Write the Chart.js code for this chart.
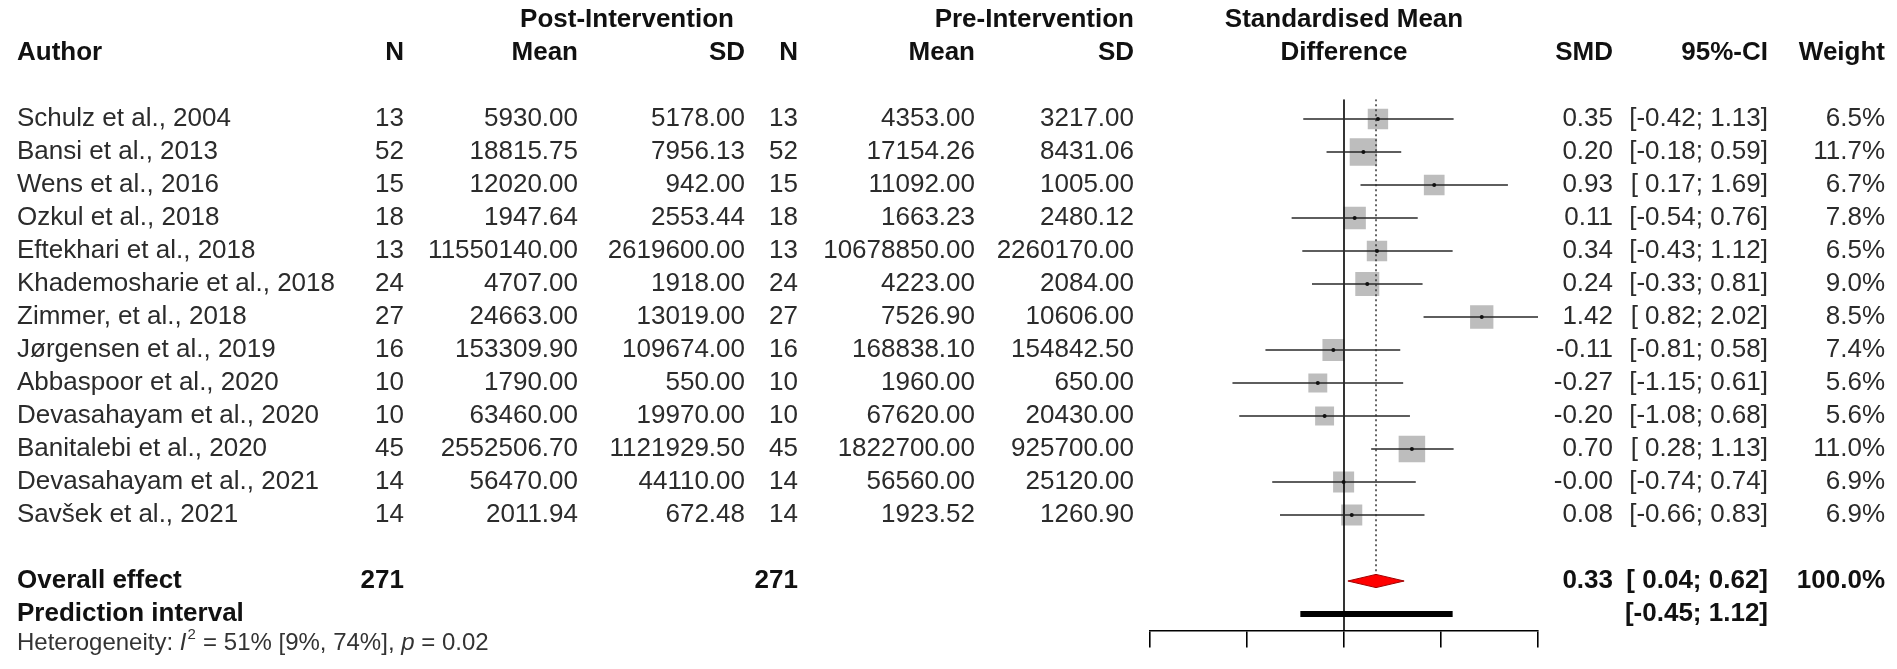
<!DOCTYPE html>
<html>
<head>
<meta charset="utf-8">
<script src="https://cdn.jsdelivr.net/npm/chart.js@4.4.1/dist/chart.umd.min.js"></script>
<style>
html,body{margin:0;padding:0;background:#ffffff;}
#wrap{position:relative;width:1897px;height:669px;overflow:hidden;}
</style>
</head>
<body>
<div id="wrap"><canvas id="c" width="1897" height="669"></canvas></div>
<script>
// ---------------- data ----------------
const authors = ["Schulz et al., 2004","Bansi et al., 2013","Wens et al., 2016","Ozkul et al., 2018","Eftekhari et al., 2018","Khademosharie et al., 2018","Zimmer, et al., 2018","Jørgensen et al., 2019","Abbaspoor et al., 2020","Devasahayam et al., 2020","Banitalebi et al., 2020","Devasahayam et al., 2021","Savšek et al., 2021"];
const nPost    = [13,52,15,18,13,24,27,16,10,10,45,14,14];
const meanPost = [5930.00,18815.75,12020.00,1947.64,11550140.00,4707.00,24663.00,153309.90,1790.00,63460.00,2552506.70,56470.00,2011.94];
const sdPost   = [5178.00,7956.13,942.00,2553.44,2619600.00,1918.00,13019.00,109674.00,550.00,19970.00,1121929.50,44110.00,672.48];
const nPre     = [13,52,15,18,13,24,27,16,10,10,45,14,14];
const meanPre  = [4353.00,17154.26,11092.00,1663.23,10678850.00,4223.00,7526.90,168838.10,1960.00,67620.00,1822700.00,56560.00,1923.52];
const sdPre    = [3217.00,8431.06,1005.00,2480.12,2260170.00,2084.00,10606.00,154842.50,650.00,20430.00,925700.00,25120.00,1260.90];
const smd      = [0.35,0.20,0.93,0.11,0.34,0.24,1.42,-0.11,-0.27,-0.20,0.70,-0.004,0.08];
const ciLow    = [-0.42,-0.18,0.17,-0.54,-0.43,-0.33,0.82,-0.81,-1.15,-1.08,0.28,-0.74,-0.66];
const ciHigh   = [1.13,0.59,1.69,0.76,1.12,0.81,2.02,0.58,0.61,0.68,1.13,0.74,0.83];
const weights  = [6.5,11.7,6.7,7.8,6.5,9.0,8.5,7.4,5.6,5.6,11.0,6.9,6.9];
const totalN   = [271, 271];
const overall  = [0.33, 0.04, 0.62];      // SMD, lower, upper
const predInt  = [-0.45, 1.12];
const overallWeight = 100.0;
const hetero   = {i2: "51%", i2ci: "[9%, 74%]", p: "0.02"};
const tickValues = [-2, -1, 0, 1, 2];

// ---------------- layout constants ----------------
const ROW_OVERALL = 14, ROW_PRED = 15, ROW_H1 = -3, ROW_H2 = -2, ROW_HET = 15.9;
const FONT = '"Liberation Sans", Arial, Helvetica, sans-serif';
const FS = 26;
const COL = {author: 17, n1: 404, mean1: 578, sd1: 745, n2: 798, mean2: 975, sd2: 1134,
             smd: 1613, ci: 1768, weight: 1885};

const fmtCI = (lo, hi) => '[' + (lo < 0 ? lo.toFixed(2) : ' ' + lo.toFixed(2)) + '; ' + hi.toFixed(2) + ']';

// ---------------- datasets ----------------
const ciData = [];
authors.forEach((a, i) => { ciData.push({x: ciLow[i], y: i}, {x: ciHigh[i], y: i}, {x: null, y: null}); });
const sqData = authors.map((a, i) => ({x: smd[i], y: i}));
const sqRadius = weights.map(w => 8.0 * Math.sqrt(w) / Math.SQRT2);
const dHalf = 0.2;
const diamondData = [
  {x: overall[1], y: ROW_OVERALL}, {x: overall[0], y: ROW_OVERALL - dHalf},
  {x: overall[2], y: ROW_OVERALL}, {x: overall[0], y: ROW_OVERALL + dHalf},
  {x: overall[1], y: ROW_OVERALL}
];

const tablePlugin = {
  id: 'tableText',
  afterDraw(chart) {
    const ctx = chart.ctx, ys = chart.scales.y, xs = chart.scales.x;
    const Y = v => ys.getPixelForValue(v);
    ctx.save();
    ctx.textBaseline = 'middle';
    const put = (t, x, y, align, bold, size, color, italic) => {
      ctx.font = (italic ? 'italic ' : '') + (bold ? 'bold ' : '') + (size || FS) + 'px ' + FONT;
      ctx.fillStyle = color || (bold ? '#111' : '#2b2b2b');
      ctx.textAlign = align;
      ctx.fillText(t, x, y);
      return ctx.measureText(t).width;
    };
    // headers
    const h1 = Y(ROW_H1), h2 = Y(ROW_H2);
    put('Post-Intervention', 627, h1, 'center', true);
    put('Pre-Intervention', COL.sd2, h1, 'right', true);
    put('Standardised Mean', xs.getPixelForValue(0), h1, 'center', true);
    put('Author', COL.author, h2, 'left', true);
    put('N', COL.n1, h2, 'right', true);
    put('Mean', COL.mean1, h2, 'right', true);
    put('SD', COL.sd1, h2, 'right', true);
    put('N', COL.n2, h2, 'right', true);
    put('Mean', COL.mean2, h2, 'right', true);
    put('SD', COL.sd2, h2, 'right', true);
    put('Difference', xs.getPixelForValue(0), h2, 'center', true);
    put('SMD', COL.smd, h2, 'right', true);
    put('95%-CI', COL.ci, h2, 'right', true);
    put('Weight', COL.weight, h2, 'right', true);
    // study rows
    authors.forEach((a, i) => {
      const y = Y(i);
      put(a, COL.author, y, 'left');
      put(String(nPost[i]), COL.n1, y, 'right');
      put(meanPost[i].toFixed(2), COL.mean1, y, 'right');
      put(sdPost[i].toFixed(2), COL.sd1, y, 'right');
      put(String(nPre[i]), COL.n2, y, 'right');
      put(meanPre[i].toFixed(2), COL.mean2, y, 'right');
      put(sdPre[i].toFixed(2), COL.sd2, y, 'right');
      put(smd[i].toFixed(2), COL.smd, y, 'right');
      put(fmtCI(ciLow[i], ciHigh[i]), COL.ci, y, 'right');
      put(weights[i].toFixed(1) + '%', COL.weight, y, 'right');
    });
    // overall
    const yo = Y(ROW_OVERALL), yp = Y(ROW_PRED);
    put('Overall effect', COL.author, yo, 'left', true);
    put(String(totalN[0]), COL.n1, yo, 'right', true);
    put(String(totalN[1]), COL.n2, yo, 'right', true);
    put(overall[0].toFixed(2), COL.smd, yo, 'right', true);
    put(fmtCI(overall[1], overall[2]), COL.ci, yo, 'right', true);
    put(overallWeight.toFixed(1) + '%', COL.weight, yo, 'right', true);
    put('Prediction interval', COL.author, yp, 'left', true);
    put(fmtCI(predInt[0], predInt[1]), COL.ci, yp, 'right', true);
    // heterogeneity
    const yh = Y(ROW_HET), hs = 24, hc = '#333';
    let x = COL.author;
    x += put('Heterogeneity: ', x, yh, 'left', false, hs, hc);
    x += put('I', x, yh, 'left', false, hs, hc, true);
    put('2', x + 1, yh - 9, 'left', false, 15, hc);
    x += 10;
    x += put(' = ' + hetero.i2 + ' ' + hetero.i2ci + ', ', x, yh, 'left', false, hs, hc);
    x += put('p', x, yh, 'left', false, hs, hc, true);
    put(' = ' + hetero.p, x, yh, 'left', false, hs, hc);
    ctx.restore();
  }
};

new Chart(document.getElementById('c'), {
  type: 'scatter',
  data: {
    datasets: [
      { // centre marks
        data: sqData, pointStyle: 'circle', pointRadius: 2, backgroundColor: '#111', borderWidth: 0, order: 0
      },
      { // confidence intervals
        data: ciData, showLine: true, spanGaps: false, borderColor: '#2a2a2a', borderWidth: 1.6,
        pointRadius: 0, order: 1
      },
      { // prediction interval
        data: [{x: predInt[0], y: ROW_PRED}, {x: predInt[1], y: ROW_PRED}], showLine: true,
        borderColor: '#000', borderWidth: 6, borderCapStyle: 'butt', pointRadius: 0, order: 2
      },
      { // overall diamond
        data: diamondData, showLine: true, fill: 'shape', backgroundColor: '#ff0000',
        borderColor: '#a00000', borderWidth: 1, pointRadius: 0, tension: 0, order: 3
      },
      { // line of no effect
        data: [{x: 0, y: -0.6}, {x: 0, y: 15.5}], showLine: true, borderColor: '#000',
        borderWidth: 1.6, pointRadius: 0, order: 4
      },
      { // overall effect reference (dotted)
        data: [{x: overall[0], y: -0.6}, {x: overall[0], y: ROW_OVERALL - dHalf}], showLine: true,
        borderColor: '#333', borderWidth: 1.5, borderDash: [2, 3], pointRadius: 0, order: 5
      },
      { // study squares
        data: sqData, pointStyle: 'rect', pointRadius: sqRadius, backgroundColor: '#bdbdbd',
        borderWidth: 0, order: 6
      }
    ]
  },
  options: {
    responsive: false,
    animation: false,
    devicePixelRatio: 1,
    events: [],
    layout: { padding: { left: 1150, right: 359, top: 99.2, bottom: 21.5 } },
    plugins: { legend: { display: false }, tooltip: { enabled: false } },
    scales: {
      x: {
        type: 'linear', min: -2, max: 2, position: 'bottom',
        afterBuildTicks: s => { s.ticks = tickValues.map(v => ({value: v})); },
        ticks: { display: false },
        grid: { display: true, drawOnChartArea: false, drawTicks: true, tickLength: 17, color: '#000', lineWidth: 1.6 },
        border: { display: true, color: '#000', width: 1.6 }
      },
      y: { type: 'linear', min: -0.6, max: 15.5, reverse: true, display: false }
    }
  },
  plugins: [tablePlugin]
});
</script>
</body>
</html>
